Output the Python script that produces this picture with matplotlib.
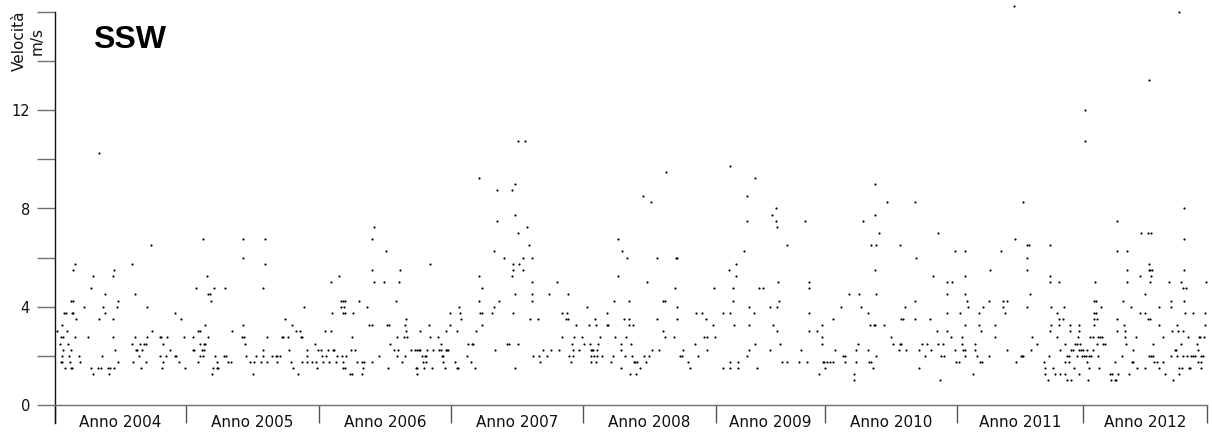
import numpy as np
import matplotlib
matplotlib.use("Agg")
import matplotlib.pyplot as plt

# Velocità del vento da SSW (m/s) per numero d'osservazione, anni 2004-2012
anni = ["Anno 2004", "Anno 2005", "Anno 2006", "Anno 2007", "Anno 2008",
        "Anno 2009", "Anno 2010", "Anno 2011", "Anno 2012"]
# numero di posizioni d'osservazione per ciascun anno
durata = [131, 133, 132, 132, 133, 109, 132, 126, 124]

x_2004 = [2, 5, 6, 7, 8, 8, 7, 6, 7, 9, 11, 10, 12, 13, 14, 15, 16, 17, 16, 16,
          18, 17, 18, 18, 20, 21, 20, 24, 25, 29, 33, 36, 36, 38, 38, 43, 44, 44,
          46, 47, 48, 50, 50, 53, 54, 55, 58, 59, 58, 58, 59, 60, 62, 63, 63, 77,
          77, 78, 80, 80, 81, 82, 84, 85, 86, 87, 89, 91, 91, 92, 92, 96, 97, 105,
          106, 105, 107, 108, 108, 111, 112, 115, 120, 120, 121, 124, 126, 129, 130]
v_2004 = [3.0, 2.5, 2.75, 3.25, 2.75, 2.25, 2.0, 1.75, 1.75, 3.75, 3.75, 1.5, 3.0,
          2.5, 2.0, 1.75, 1.5, 1.5, 2.25, 4.25, 4.25, 3.75, 3.75, 5.5, 5.75, 3.5,
          2.75, 2.0, 1.75, 4.0, 2.75, 4.75, 1.5, 1.25, 5.25, 1.5, 10.25, 3.5, 1.5,
          2.0, 4.0, 4.5, 3.75, 1.5, 1.25, 1.5, 5.25, 5.5, 3.5, 2.75, 1.5, 2.25, 4.0,
          1.75, 4.25, 5.75, 2.5, 1.75, 4.5, 2.75, 2.25, 2.25, 2.0, 2.5, 1.5, 2.25,
          2.5, 2.5, 1.75, 4.0, 2.75, 6.5, 3.0, 2.75, 2.75, 2.0, 1.5, 2.5, 1.75, 2.0,
          2.75, 2.25, 3.75, 2.0, 2.0, 1.75, 3.5, 2.75, 1.5]

x_2005 = [138, 138, 139, 141, 143, 143, 145, 145, 145, 147, 148, 148, 149, 149,
          150, 150, 152, 153, 155, 156, 153, 157, 158, 162, 163, 162, 159, 160,
          170, 169, 171, 173, 176, 177, 187, 188, 189, 188, 188, 190, 191, 195,
          198, 199, 201, 206, 208, 208, 208, 210, 210, 212, 212, 217, 221, 222,
          222, 225, 227, 228, 230, 233, 234, 236, 237, 238, 241, 243, 245, 246,
          247, 247, 249, 252, 252, 252, 257, 260, 261, 262, 263]
v_2005 = [2.75, 2.25, 2.25, 4.75, 3.0, 1.75, 3.0, 2.5, 2.0, 2.25, 6.75, 2.0, 2.5,
          2.25, 3.25, 2.5, 5.25, 4.5, 4.5, 4.25, 2.75, 1.25, 1.5, 1.5, 1.5, 1.75,
          4.75, 2.0, 4.75, 2.0, 2.0, 1.75, 1.75, 3.0, 2.75, 3.25, 2.75, 6.75, 6.0,
          2.5, 2.0, 1.75, 1.25, 1.75, 2.0, 1.75, 4.75, 2.25, 2.0, 5.75, 6.75, 2.75,
          1.75, 2.0, 2.0, 1.75, 2.0, 2.0, 2.75, 2.75, 3.5, 2.75, 2.25, 1.75, 3.25,
          1.5, 3.0, 1.25, 3.0, 2.75, 2.75, 1.75, 4.0, 2.25, 2.0, 1.75, 1.75, 2.5,
          1.75, 1.5, 2.25]

x_2006 = [266, 267, 268, 270, 271, 273, 274, 276, 277, 276, 278, 279, 281, 282,
          284, 286, 286, 288, 287, 288, 290, 289, 288, 290, 290, 291, 288, 295,
          297, 296, 297, 298, 300, 302, 304, 307, 308, 307, 309, 312, 314, 317,
          317, 317, 319, 319, 317, 324, 329, 331, 332, 334, 333, 335, 339, 341,
          342, 343, 344, 345, 342, 347, 349, 350, 351, 352, 351, 350, 356, 360,
          361, 362, 362, 362, 364, 365, 365, 367, 368, 369, 370, 371, 371, 372,
          374, 375, 375, 377, 378, 383, 384, 386, 386, 387, 388, 388, 390, 391,
          391, 392, 393, 395, 395]
v_2006 = [2.25, 2.0, 1.75, 3.0, 2.0, 2.25, 1.75, 3.0, 3.75, 5.0, 2.25, 2.25, 1.75,
          2.0, 5.25, 4.25, 4.0, 1.75, 2.0, 3.75, 3.75, 4.0, 4.25, 4.25, 1.5, 2.0,
          1.5, 1.25, 2.75, 2.25, 1.25, 3.75, 2.25, 1.75, 4.25, 1.75, 1.5, 1.25,
          1.75, 4.0, 3.25, 3.25, 5.5, 6.75, 7.25, 5.0, 1.75, 2.0, 5.0, 6.25, 3.25,
          3.25, 1.5, 2.5, 2.25, 4.25, 2.0, 2.25, 5.0, 5.5, 2.75, 1.75, 2.75, 3.25,
          3.0, 2.75, 3.5, 2.0, 2.25, 2.25, 1.5, 1.25, 1.5, 2.25, 2.25, 3.0, 2.25,
          2.0, 1.75, 1.5, 2.0, 2.0, 1.75, 2.25, 3.25, 5.75, 2.75, 1.5, 2.25, 2.75,
          2.25, 2.25, 2.5, 2.0, 1.75, 2.0, 1.5, 3.0, 2.25, 2.25, 2.25, 3.75, 3.25]

x_2007 = [400, 402, 403, 402, 404, 405, 406, 412, 413, 416, 417, 418, 420, 421,
          424, 424, 425, 427, 427, 427, 424, 437, 439, 440, 442, 442, 439, 444,
          449, 452, 454, 457, 457, 458, 460, 460, 458, 458, 460, 460, 463, 463,
          463, 464, 468, 468, 470, 472, 474, 475, 477, 477, 477, 477, 478, 483,
          484, 485, 488, 492, 494, 496, 502, 504, 507, 507, 511, 512, 513, 513,
          514, 516, 517, 518, 519, 518, 521, 524, 527]
v_2007 = [1.75, 1.5, 1.5, 3.0, 4.0, 3.75, 3.5, 2.0, 2.5, 1.75, 2.5, 2.5, 1.5, 3.0,
          5.25, 4.25, 3.75, 3.75, 4.75, 3.25, 9.25, 3.75, 4.0, 2.25, 7.5, 8.75,
          6.25, 4.25, 6.0, 2.5, 2.5, 5.25, 8.75, 3.75, 7.75, 9.0, 5.75, 5.5, 1.5,
          4.5, 2.5, 7.0, 10.75, 5.75, 6.0, 5.5, 10.75, 7.25, 6.5, 3.5, 6.0, 5.0,
          4.5, 4.25, 2.0, 3.5, 2.0, 1.75, 2.25, 2.0, 4.5, 2.25, 5.0, 2.25, 2.75,
          3.75, 3.5, 3.75, 4.5, 3.5, 2.0, 1.75, 2.5, 2.25, 2.75, 2.0, 3.25, 2.25,
          2.75]

x_2008 = [529, 532, 534, 535, 536, 536, 536, 537, 538, 539, 540, 541, 542, 542,
          541, 543, 545, 547, 552, 552, 553, 556, 558, 559, 560, 563, 563, 566,
          566, 566, 567, 569, 570, 571, 572, 574, 574, 574, 575, 576, 577, 578,
          579, 580, 581, 582, 585, 588, 589, 591, 592, 594, 596, 597, 602, 602,
          604, 608, 608, 610, 610, 611, 619, 620, 621, 622, 622, 622, 625, 627,
          628, 633, 635, 640, 641, 643, 647, 649, 651, 652, 652, 658, 659, 660]
v_2008 = [2.5, 4.0, 3.25, 2.5, 2.25, 2.0, 1.75, 2.25, 2.25, 2.0, 3.5, 3.25, 2.25,
          2.0, 1.75, 2.5, 2.75, 2.0, 3.75, 3.25, 3.25, 1.75, 2.0, 4.25, 2.75, 6.75,
          5.25, 2.5, 2.25, 1.5, 6.25, 3.5, 2.0, 2.75, 6.0, 4.25, 3.5, 3.25, 1.25,
          2.5, 2.0, 3.25, 1.75, 1.75, 1.25, 1.75, 1.5, 8.5, 2.0, 1.75, 5.0, 2.0,
          8.25, 2.25, 3.5, 6.0, 2.25, 3.0, 4.25, 4.25, 2.75, 9.5, 2.75, 4.75, 6.0,
          6.0, 4.0, 3.5, 2.0, 2.0, 2.25, 1.75, 1.5, 2.5, 3.75, 2.0, 3.75, 2.75,
          3.5, 2.75, 2.25, 3.25, 4.75, 2.75]

x_2009 = [668, 668, 674, 675, 675, 675, 675, 678, 678, 679, 681, 681, 683, 683,
          689, 692, 692, 692, 694, 694, 694, 699, 700, 700, 702, 704, 708, 715,
          715, 717, 718, 721, 721, 722, 722, 722, 723, 724, 725, 727, 732, 732,
          744, 746, 750, 752, 754, 754, 754, 754, 762, 764, 767, 767, 767, 768,
          769]
v_2009 = [1.5, 3.75, 5.5, 9.75, 3.75, 1.75, 1.5, 4.75, 4.25, 3.25, 5.75, 5.25,
          1.75, 1.5, 6.25, 8.5, 7.5, 2.0, 4.0, 3.25, 2.25, 3.75, 9.25, 2.5, 1.5,
          4.75, 4.75, 4.0, 2.25, 7.75, 3.25, 8.0, 7.5, 7.25, 4.0, 3.0, 5.0, 4.25,
          2.5, 1.75, 6.5, 1.75, 1.75, 2.25, 7.5, 1.75, 3.0, 3.75, 4.75, 5.0, 3.0,
          1.25, 3.25, 2.5, 2.75, 1.75, 1.75]

x_2010 = [770, 772, 775, 778, 778, 780, 786, 788, 790, 790, 794, 799, 799, 801,
          801, 803, 804, 806, 808, 813, 813, 814, 815, 816, 816, 818, 819, 820,
          820, 820, 820, 821, 821, 821, 824, 829, 832, 836, 838, 844, 845, 846,
          846, 848, 845, 850, 851, 860, 861, 860, 860, 864, 864, 867, 870, 872,
          875, 876, 878, 882, 883, 883, 885, 886, 888, 889, 892, 892, 892, 892,
          897, 896, 900, 900, 901]
v_2010 = [1.5, 1.75, 1.75, 1.75, 3.5, 2.25, 4.0, 2.0, 2.0, 1.75, 4.5, 1.25, 1.0,
          1.75, 2.25, 2.5, 4.5, 4.0, 7.5, 3.75, 2.25, 1.75, 3.25, 6.5, 1.75, 1.5,
          3.25, 3.25, 5.5, 7.75, 9.0, 6.5, 4.5, 2.0, 7.0, 3.25, 8.25, 2.75, 2.5,
          2.25, 2.5, 2.5, 3.5, 3.5, 6.5, 4.0, 2.25, 8.25, 6.0, 4.25, 3.5, 2.25,
          1.5, 2.5, 2.0, 2.5, 3.5, 2.25, 5.25, 3.0, 7.0, 2.5, 1.0, 2.0, 2.5, 2.0,
          5.0, 4.5, 3.75, 3.0, 5.0, 2.75, 6.25, 2.25, 1.75]

x_2011 = [904, 905, 907, 907, 908, 910, 910, 910, 910, 912, 913, 910, 910, 918,
          920, 920, 922, 924, 924, 925, 926, 927, 928, 934, 934, 935, 940, 940,
          946, 948, 948, 950, 952, 952, 959, 960, 961, 966, 967, 968, 968, 972,
          974, 972, 972, 972, 975, 977, 976, 982, 989, 990, 990, 993, 995, 995,
          995, 996, 996, 995, 994, 998, 1000, 1002, 1002, 1004, 1004, 1004, 1005,
          1005, 1008, 1009, 1010, 1010, 1012, 1010, 1012, 1014, 1014, 1015, 1016,
          1015, 1016, 1018, 1019, 1020, 1022, 1022, 1023, 1024, 1024, 1024, 1024,
          1025, 1026, 1027, 1027.5]
v_2011 = [1.75, 3.75, 2.5, 2.75, 2.25, 3.25, 6.25, 5.25, 4.5, 4.25, 4.0, 2.0,
          2.25, 1.25, 2.25, 2.5, 2.0, 3.75, 3.25, 1.75, 3.0, 1.75, 4.0, 4.25, 2.0,
          5.5, 2.75, 3.25, 6.25, 4.0, 4.25, 3.75, 4.25, 2.25, 16.25, 6.75, 1.75,
          2.0, 2.0, 2.0, 8.25, 6.5, 6.5, 6.0, 5.5, 4.0, 4.5, 2.75, 2.25, 2.5, 1.75,
          1.5, 1.25, 1.0, 6.5, 5.25, 5.0, 4.0, 3.25, 3.0, 2.0, 1.5, 1.25, 3.75,
          2.75, 3.5, 5.0, 3.25, 2.25, 1.25, 3.5, 4.0, 2.5, 1.75, 2.0, 1.25, 1.0,
          2.0, 1.75, 3.25, 1.0, 3.0, 2.25, 2.25, 1.5, 2.5, 2.5, 2.0, 2.75, 2.25,
          3.25, 3.0, 1.25, 2.5, 2.25, 2.0, 2.25]

x_2012 = [1029, 1030, 1030, 1031, 1032, 1032, 1033, 1034, 1034, 1035, 1036, 1038,
          1038, 1039, 1039, 1039, 1039, 1040, 1041, 1041, 1042, 1042, 1043, 1043,
          1044, 1045, 1046, 1047, 1048, 1050, 1055, 1056, 1057, 1060, 1061, 1060,
          1062, 1062, 1062, 1062, 1063, 1067, 1068, 1069, 1070, 1070, 1071, 1072,
          1072, 1072, 1074, 1076, 1077, 1078, 1078, 1081, 1082, 1085, 1086, 1085,
          1090, 1090, 1090, 1093, 1094, 1094, 1095, 1096, 1096, 1097, 1095, 1093,
          1095, 1094, 1096, 1098, 1098, 1094, 1099, 1102, 1104, 1104, 1104, 1108,
          1108, 1110, 1114, 1116, 1116, 1116, 1117, 1118, 1120, 1121, 1122, 1122,
          1123, 1124, 1124, 1124, 1126, 1126, 1127, 1128, 1128, 1129, 1129, 1129,
          1129, 1128, 1131, 1130, 1132, 1133, 1134, 1135, 1136, 1138, 1138, 1140,
          1142, 1143, 1143, 1144, 1145, 1146, 1146, 1146, 1148, 1149, 1150, 1150,
          1151]
v_2012 = [2.0, 12.0, 10.75, 2.0, 1.75, 2.25, 1.0, 2.0, 1.5, 2.75, 2.0, 2.75, 2.25,
          4.25, 3.75, 3.5, 3.25, 5.0, 3.75, 4.25, 3.5, 2.5, 2.0, 2.75, 1.5, 2.75,
          4.0, 2.75, 2.5, 2.5, 1.25, 1.0, 1.25, 1.0, 1.0, 1.75, 3.0, 3.5, 7.5, 6.25,
          1.25, 2.0, 4.25, 3.25, 3.0, 2.75, 2.5, 6.25, 5.5, 5.0, 1.25, 4.0, 1.75,
          1.75, 2.25, 2.75, 1.5, 5.25, 7.0, 3.75, 4.5, 3.75, 1.5, 7.0, 5.5, 5.75,
          5.5, 7.0, 5.25, 5.5, 5.0, 3.5, 3.5, 2.0, 2.0, 2.5, 2.0, 13.25, 1.75, 1.75,
          1.5, 3.25, 4.0, 1.75, 2.75, 1.25, 5.0, 2.0, 4.25, 4.0, 3.0, 1.0, 2.25,
          2.25, 3.25, 2.0, 3.0, 1.25, 16.0, 1.5, 5.0, 2.5, 1.5, 2.0, 3.0, 5.5, 6.75,
          8.0, 4.25, 4.75, 4.75, 3.75, 2.0, 2.75, 1.5, 1.5, 2.0, 2.0, 3.75, 2.0,
          2.5, 2.25, 1.75, 2.75, 2.75, 1.5, 1.75, 2.0, 2.0, 2.75, 3.25, 3.75, 5.0]

serie_x = [x_2004, x_2005, x_2006, x_2007, x_2008, x_2009, x_2010, x_2011, x_2012]
serie_v = [v_2004, v_2005, v_2006, v_2007, v_2008, v_2009, v_2010, v_2011, v_2012]

W, H = 1212, 436
fig = plt.figure(figsize=(W / 100, H / 100), dpi=100)
ax = fig.add_axes([55 / W, 31 / H, 1152 / W, 393 / H])

for xs, vs in zip(serie_x, serie_v):
    ax.scatter(xs, vs, s=2.4, marker="o", c="black", linewidths=0,
               clip_on=False, zorder=3)

limiti = np.concatenate([[0], np.cumsum(durata)])
centri = (limiti[:-1] + limiti[1:]) / 2

ax.set_xlim(limiti[0], limiti[-1])
ax.set_ylim(0, 16)

for lato in ("top", "right"):
    ax.spines[lato].set_visible(False)
# the vertical axis line runs on below zero, down to the end of the year separators
ax.spines["left"].set_bounds(-0.73, 16)
ax.spines["left"].set_color("#111111")
ax.spines["left"].set_linewidth(1.0)
ax.spines["bottom"].set_color("#707070")
ax.spines["bottom"].set_linewidth(1.0)

grigio = "#707070"
yt = np.arange(0, 17, 2)
ax.set_yticks(yt)
ax.set_yticklabels([str(int(v)) if v % 4 == 0 and v < 16 else "" for v in yt])
ax.tick_params(axis="y", direction="out", length=13, width=1.0, color=grigio,
               labelsize=10.5, pad=5, labelcolor="#111111")

ax.set_xticks(limiti)
ax.set_xticklabels([])
ax.set_xticks(centri, minor=True)
ax.set_xticklabels(anni, minor=True)
ax.tick_params(axis="x", which="major", direction="out", length=13, width=1.0,
               color="#555555")
ax.tick_params(axis="x", which="minor", length=0, pad=7, labelsize=11,
               labelcolor="#111111")

fig.text(28 / W, 1 - 41 / H, "Velocità\nm/s", rotation=90, ha="center",
         va="center", multialignment="center", fontsize=11, color="#111111")
fig.text(93 / W, 1 - 48 / H, "SSW", ha="left", va="baseline", fontsize=23,
         fontweight="bold", family="Liberation Sans", color="black")

fig.savefig("out.png", dpi=100)
